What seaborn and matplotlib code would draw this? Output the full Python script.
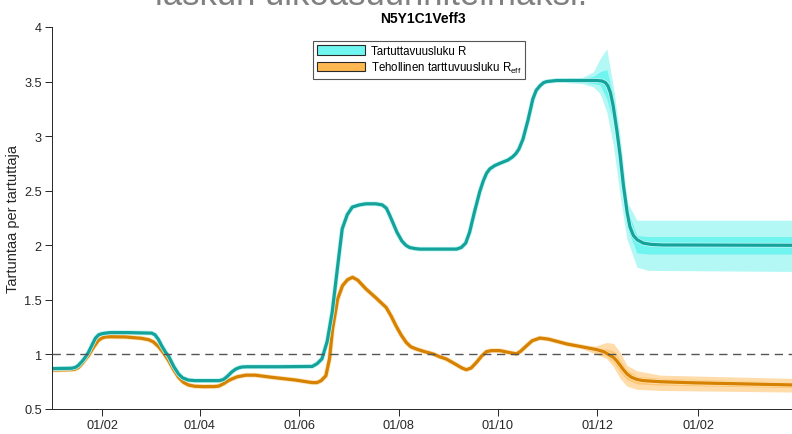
import numpy as np
import pandas as pd
import matplotlib
matplotlib.use('Agg')
import matplotlib.pyplot as plt
from matplotlib.patches import Patch
import seaborn as sns

START = pd.Timestamp('2020-01-01')

# --- data (day offsets from START) ---
r_day = [0, 12, 14.5, 16.5, 19, 21, 22.7, 25, 27, 29, 31, 33, 36, 47, 61.5, 63.5, 65.5, 67.6, 70,
         72, 75, 78, 80.5, 84, 88, 103, 105.5, 108, 110.7, 113, 115, 117, 120, 140, 160, 163, 166,
         169.2, 172.3, 175.4, 178.4, 181.5, 184.6, 189, 193, 199, 203, 205.5, 207.4, 210, 212, 215,
         217.5, 219.7, 223, 226, 248.6, 251.5, 254.2, 256.6, 259.5, 262.8, 265, 267, 269, 272, 275,
         280, 283, 285, 286.8, 289.3, 292.5, 295.4, 297.5, 299.7, 302, 304, 310, 334.8, 337.9, 340,
         341.5, 343, 344.7, 347, 349, 351, 353.3, 355, 357.1, 359.5, 363.2, 368, 375, 456]
r_val = [0.87, 0.873, 0.88, 0.90, 0.94, 0.98, 1.02, 1.09, 1.15, 1.18, 1.19, 1.195, 1.2, 1.2, 1.195,
         1.18, 1.14, 1.08, 1.02, 0.98, 0.89, 0.82, 0.785, 0.765, 0.76, 0.76, 0.77, 0.80, 0.84, 0.865,
         0.878, 0.885, 0.887, 0.887, 0.89, 0.915, 0.96, 1.12, 1.39, 1.78, 2.15, 2.28, 2.35, 2.37,
         2.38, 2.38, 2.37, 2.34, 2.28, 2.19, 2.12, 2.04, 2.0, 1.98, 1.97, 1.965, 1.965, 1.98, 2.02,
         2.12, 2.30, 2.49, 2.59, 2.66, 2.70, 2.73, 2.75, 2.78, 2.81, 2.84, 2.88, 2.97, 3.15, 3.34,
         3.42, 3.46, 3.49, 3.50, 3.51, 3.51, 3.505, 3.49, 3.46, 3.40, 3.28, 3.05, 2.82, 2.55, 2.30,
         2.17, 2.09, 2.05, 2.02, 2.008, 2.003, 2.0]

reff_day = [0, 12, 14.5, 16.5, 19, 21, 22.7, 25.5, 28.8, 31, 33, 36, 45.4, 55, 59.6, 62.5, 65.8,
            69, 72, 75, 78, 81, 84, 88, 93.5, 100, 102.7, 106, 108.5, 110.7, 114, 119.3, 125,
            135.3, 150, 156.3, 160, 163, 165.5, 168.4, 170.6, 172.5, 175.6, 178.6, 181.7, 184.8,
            188, 193, 199, 205.4, 208.5, 211.5, 214.5, 217.7, 220.5, 223.8, 229, 234.1, 238, 242.3,
            248, 252, 254.6, 257.5, 260.8, 264, 266.9, 270, 275.1, 280, 285.4, 288, 291.6, 295,
            299.7, 305, 316.2, 334.7, 339, 342.9, 344.7, 347, 349, 351, 353.3, 356, 359.5, 363.2,
            373.6, 394, 456]
reff_val = [0.857, 0.86, 0.865, 0.88, 0.92, 0.96, 0.99, 1.06, 1.13, 1.15, 1.16, 1.162, 1.16,
            1.148, 1.135, 1.115, 1.07, 1.01, 0.94, 0.86, 0.79, 0.745, 0.72, 0.708, 0.705, 0.706,
            0.71, 0.735, 0.76, 0.775, 0.795, 0.81, 0.81, 0.79, 0.765, 0.75, 0.742, 0.742, 0.76,
            0.805, 0.958, 1.233, 1.508, 1.63, 1.685, 1.707, 1.68, 1.60, 1.52, 1.43, 1.35, 1.26,
            1.18, 1.11, 1.07, 1.05, 1.025, 1.005, 0.98, 0.958, 0.91, 0.875, 0.86, 0.875, 0.927,
            0.985, 1.025, 1.035, 1.035, 1.02, 1.005, 1.03, 1.08, 1.125, 1.15, 1.14, 1.096, 1.044,
            1.025, 0.99, 0.976, 0.94, 0.90, 0.86, 0.82, 0.79, 0.77, 0.76, 0.75, 0.74, 0.72]

r_band_day = [316, 326, 332.6, 336.7, 340.8, 344.9, 349, 353.1, 359.3, 366, 456]
r_hi95 = [3.53, 3.54, 3.59, 3.71, 3.80, 3.45, 3.00, 2.40, 2.23, 2.23, 2.23]
r_lo95 = [3.49, 3.48, 3.45, 3.39, 3.22, 2.91, 2.45, 2.06, 1.80, 1.77, 1.76]
r_hi50 = [3.52, 3.525, 3.55, 3.59, 3.61, 3.37, 2.90, 2.34, 2.09, 2.08, 2.08]
r_lo50 = [3.50, 3.495, 3.48, 3.47, 3.34, 3.13, 2.68, 2.17, 1.93, 1.92, 1.92]

reff_band_day = [326, 334.7, 340.8, 344.9, 349, 353.1, 359.3, 373.6, 456]
reff_hi95 = [1.07, 1.08, 1.11, 1.10, 1.02, 0.90, 0.85, 0.81, 0.78]
reff_lo95 = [1.05, 1.00, 0.96, 0.885, 0.78, 0.71, 0.68, 0.67, 0.655]
reff_hi50 = [1.065, 1.06, 1.05, 1.03, 0.95, 0.86, 0.80, 0.78, 0.745]
reff_lo50 = [1.055, 1.02, 0.98, 0.93, 0.84, 0.77, 0.73, 0.72, 0.695]

x_tick_dates = ['2020-02-01', '2020-04-01', '2020-06-01', '2020-08-01', '2020-10-01',
                '2020-12-01', '2021-02-01']
x_tick_labels = ['01/02', '01/04', '01/06', '01/08', '01/10', '01/12', '01/02']
y_ticks = [0.5, 1, 1.5, 2, 2.5, 3, 3.5, 4]
y_tick_labels = ['0.5', '1', '1.5', '2', '2.5', '3', '3.5', '4']

legend_labels = ['Tartuttavuusluku R', 'Tehollinen tarttuvuusluku R$_{\\mathrm{eff}}$']
title = 'N5Y1C1Veff3'
ylabel = 'Tartuntaa per tartuttaja'
overflow_text = 'laskun ulkoasuunnitelmaksi.'


def to_dates(days):
    return START + pd.to_timedelta(np.asarray(days, dtype=float), unit='D')


sns.set_theme(style='white')
plt.rcParams['font.family'] = ['Liberation Sans', 'DejaVu Sans']
plt.rcParams['mathtext.fontset'] = 'custom'
plt.rcParams['mathtext.rm'] = 'Liberation Sans'
plt.rcParams['mathtext.it'] = 'Liberation Sans'

C_R = '#14a29a'
C_REFF = '#d68100'
C_R_IN, C_R_OUT = '#6ff4ef', '#b4f8f6'
C_E_IN, C_E_OUT = '#ffc571', '#ffdcaa'
AX_C = '#262626'

fig = plt.figure(figsize=(7.92, 4.35), dpi=100)
ax = fig.add_axes([51.5 / 792, 25 / 435, (794.5 - 51.5) / 792, 382 / 435])

# bands
ax.fill_between(to_dates(r_band_day), r_lo95, r_hi95, color=C_R_OUT, lw=0, zorder=1)
ax.fill_between(to_dates(r_band_day), r_lo50, r_hi50, color=C_R_IN, lw=0, zorder=1.1)
ax.fill_between(to_dates(reff_band_day), reff_lo95, reff_hi95, color=C_E_OUT, lw=0, zorder=1)
ax.fill_between(to_dates(reff_band_day), reff_lo50, reff_hi50, color=C_E_IN, lw=0, zorder=1.1)

df_r = pd.DataFrame({'date': to_dates(r_day), 'value': r_val})
df_e = pd.DataFrame({'date': to_dates(reff_day), 'value': reff_val})

sns.lineplot(data=df_e, x='date', y='value', ax=ax, color='#ffe2b5', linewidth=3.4,
             estimator=None, sort=False, zorder=2)
sns.lineplot(data=df_e, x='date', y='value', ax=ax, color=C_REFF, linewidth=2.3,
             estimator=None, sort=False, zorder=2.1)
sns.lineplot(data=df_r, x='date', y='value', ax=ax, color='#bff7f5', linewidth=3.4,
             estimator=None, sort=False, zorder=2.2)
sns.lineplot(data=df_r, x='date', y='value', ax=ax, color=C_R, linewidth=2.3,
             estimator=None, sort=False, zorder=2.3)

ax.axhline(1, color='#555555', lw=1.0, ls=(0, (6, 4)), zorder=3)

ax.set_xlim(START, START + pd.Timedelta(days=456))
ax.set_ylim(0.5, 4)
ax.set_xticks(pd.to_datetime(x_tick_dates))
ax.set_xticklabels(x_tick_labels)
ax.set_yticks(y_ticks)
ax.set_yticklabels(y_tick_labels)
ax.set_xlabel('')
ax.set_ylabel(ylabel, fontsize=10.5, color=AX_C, labelpad=3)
ax.set_title(title, fontsize=10, fontweight='bold', color='black', pad=3.5)

for s in ['top', 'right']:
    ax.spines[s].set_visible(False)
for s in ['left', 'bottom']:
    ax.spines[s].set_color(AX_C)
    ax.spines[s].set_linewidth(0.7)
ax.tick_params(axis='both', direction='out', length=5, width=0.7, color=AX_C,
               labelcolor=AX_C, labelsize=9.2, left=True, bottom=True, pad=2)
ax.grid(False)

handles = [Patch(facecolor='#70f6f1', edgecolor='#2a2a2a', linewidth=0.8),
           Patch(facecolor='#ffb84f', edgecolor='#2a2a2a', linewidth=0.8)]
leg = ax.legend(handles, legend_labels, loc='upper left', bbox_to_anchor=(0.352, 0.964),
                borderaxespad=0, fontsize=8.3, frameon=True, fancybox=False,
                handlelength=4.2, handleheight=0.9, handletextpad=0.45, labelspacing=0.25,
                borderpad=0.35)
leg.get_frame().set_edgecolor('#2a2a2a')
leg.get_frame().set_linewidth(0.8)
for t in leg.get_texts():
    t.set_color('black')

fig.text(155 / 792, 1 - 5 / 435, overflow_text, fontsize=25, color='#808080',
         ha='left', va='baseline')

fig.savefig('out.png', dpi=100)
